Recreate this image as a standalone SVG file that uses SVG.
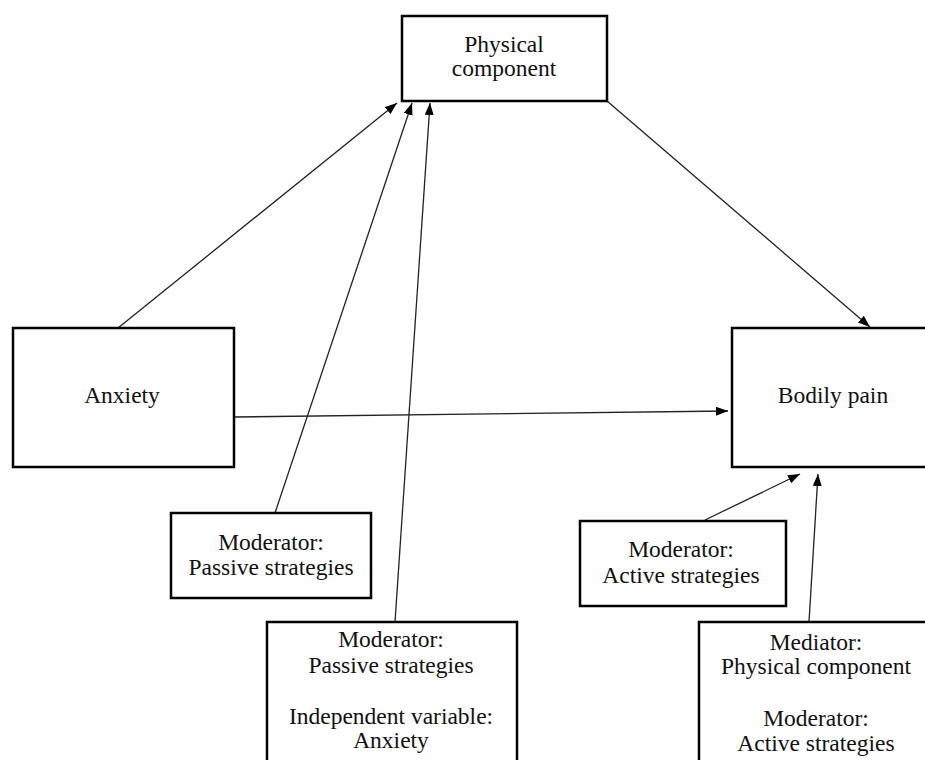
<svg xmlns="http://www.w3.org/2000/svg" width="925" height="760" viewBox="0 0 925 760">
<style>
.box{fill:#fff;stroke:#000;stroke-width:2.5}
.t{font-family:"Liberation Serif","Times New Roman",serif;font-size:23.5px;fill:#111;text-anchor:middle}
.c{stroke:#222;stroke-width:1.3;fill:none;marker-end:url(#ah)}
</style>
<defs>
<marker id="ah" markerUnits="userSpaceOnUse" markerWidth="13" markerHeight="10" refX="12" refY="4.5" orient="auto">
<path d="M0,0 L12,4.5 L0,9 z" fill="#000"/>
</marker>
</defs>
<rect width="925" height="760" fill="#fff"/>
<g id="connectors">
<line class="c" x1="118" y1="328" x2="397" y2="103"/>
<line class="c" x1="275" y1="513" x2="412" y2="103"/>
<line class="c" x1="395" y1="622" x2="430" y2="103"/>
<line class="c" x1="607" y1="101" x2="870" y2="327"/>
<line class="c" x1="234" y1="417" x2="728" y2="411"/>
<line class="c" x1="705" y1="520" x2="800" y2="474"/>
<line class="c" x1="809" y1="622" x2="818" y2="474"/>
</g>
<g id="physical">
<rect class="box" x="402" y="16" width="205" height="85"/>
<text class="t" x="504" y="52">Physical</text>
<text class="t" x="504" y="76">component</text>
</g>
<g id="anxiety">
<rect class="box" x="13" y="328" width="221" height="139"/>
<text class="t" x="122" y="403">Anxiety</text>
</g>
<g id="bodily">
<rect class="box" x="732" y="328" width="205" height="139"/>
<text class="t" x="833" y="403">Bodily pain</text>
</g>
<g id="passive1">
<rect class="box" x="171" y="513" width="200" height="85"/>
<text class="t" x="271" y="550">Moderator:</text>
<text class="t" x="271" y="575">Passive strategies</text>
</g>
<g id="passive2">
<rect class="box" x="267" y="622" width="250" height="150"/>
<text class="t" x="391" y="647">Moderator:</text>
<text class="t" x="391" y="673">Passive strategies</text>
<text class="t" x="391" y="724">Independent variable:</text>
<text class="t" x="391" y="748">Anxiety</text>
</g>
<g id="active1">
<rect class="box" x="580" y="521" width="206" height="85"/>
<text class="t" x="681" y="557">Moderator:</text>
<text class="t" x="681" y="583">Active strategies</text>
</g>
<g id="mediator">
<rect class="box" x="699" y="622" width="235" height="150"/>
<text class="t" x="816" y="650">Mediator:</text>
<text class="t" x="816" y="674">Physical component</text>
<text class="t" x="816" y="726">Moderator:</text>
<text class="t" x="816" y="751">Active strategies</text>
</g>
</svg>
